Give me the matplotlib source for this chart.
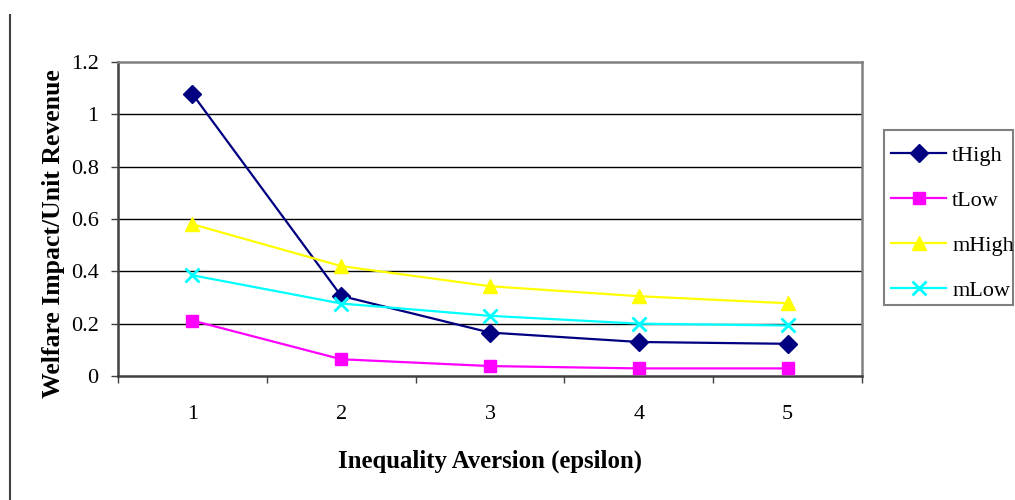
import matplotlib
matplotlib.use("Agg")
import matplotlib.pyplot as plt
from matplotlib.lines import Line2D
from matplotlib.patches import Rectangle

categories = [1, 2, 3, 4, 5]
t_high = [1.078, 0.306, 0.166, 0.130, 0.123]
t_low = [0.212, 0.064, 0.038, 0.029, 0.029]
m_high = [0.580, 0.420, 0.343, 0.305, 0.278]
m_low = [0.385, 0.277, 0.230, 0.200, 0.193]
y_ticks = [0, 0.2, 0.4, 0.6, 0.8, 1, 1.2]
y_tick_labels = ["0", "0.2", "0.4", "0.6", "0.8", "1", "1.2"]
x_title = "Inequality Aversion (epsilon)"
y_title = "Welfare Impact/Unit Revenue"

plt.rcParams['font.family'] = ['Liberation Serif', 'DejaVu Serif']

fig = plt.figure(figsize=(10.15, 5.0), dpi=100)
ax = fig.add_axes([118/1015, 1-376/500, (862-118)/1015, (376-62)/500])

series = [
    ("tHigh", t_high, "#000080", "D", 9),
    ("tLow", t_low, "#FF00FF", "s", 9),
    ("mHigh", m_high, "#FFFF00", "^", 10),
    ("mLow", m_low, "#00FFFF", "x", 10),
]
for name, vals, col, mk, ms in series:
    ax.plot(categories, vals, color=col, lw=1.6, marker=mk, markersize=ms,
            markeredgewidth=2 if mk == "x" else 1, markerfacecolor=col,
            markeredgecolor=col, label=name, zorder=3)

ax.set_xlim(0.5, 5.5)
ax.set_ylim(0, 1.2)
ax.set_yticks(y_ticks)
ax.set_yticklabels(y_tick_labels)
ax.set_xticks(categories)
ax.set_xticklabels([str(c) for c in categories])
ax.set_xticks([0.5, 1.5, 2.5, 3.5, 4.5, 5.5], minor=True)
ax.tick_params(axis='x', which='major', length=0, pad=21, labelsize=16)
ax.tick_params(axis='x', which='minor', length=5, width=1, direction='out', color='#404040')
ax.tick_params(axis='y', which='major', length=5, width=1, direction='out', pad=9, labelsize=16, color='#404040')

for y in y_ticks[1:-1]:
    ax.axhline(y, color='black', lw=1, zorder=1)

for s in ['left', 'bottom']:
    ax.spines[s].set_color('#404040')
    ax.spines[s].set_linewidth(1.8)
for s in ['top', 'right']:
    ax.spines[s].set_color('#808080')
    ax.spines[s].set_linewidth(1.8)

ax.set_xlabel(x_title, fontsize=17.8, fontweight='bold', labelpad=18.5)
ax.set_ylabel(y_title, fontsize=18.5, fontweight='bold', labelpad=4)
ax.yaxis.label.set_y(0.455)

leg = fig.legend(loc='center left', bbox_to_anchor=(891/1015, 1-223/500),
                 frameon=False, fontsize=16,
                 handlelength=2.48, handletextpad=0.27, labelspacing=1.1,
                 borderpad=0, borderaxespad=0)

fig.add_artist(Rectangle((884/1015, 1-305/500), 129/1015, 175/500, transform=fig.transFigure,
                         fill=False, edgecolor='#808080', lw=1.5))
fig.add_artist(Line2D([10/1015, 10/1015], [0, 1-15/500], color='#404040', lw=1.5, transform=fig.transFigure))

fig.savefig("out.png", dpi=100)
